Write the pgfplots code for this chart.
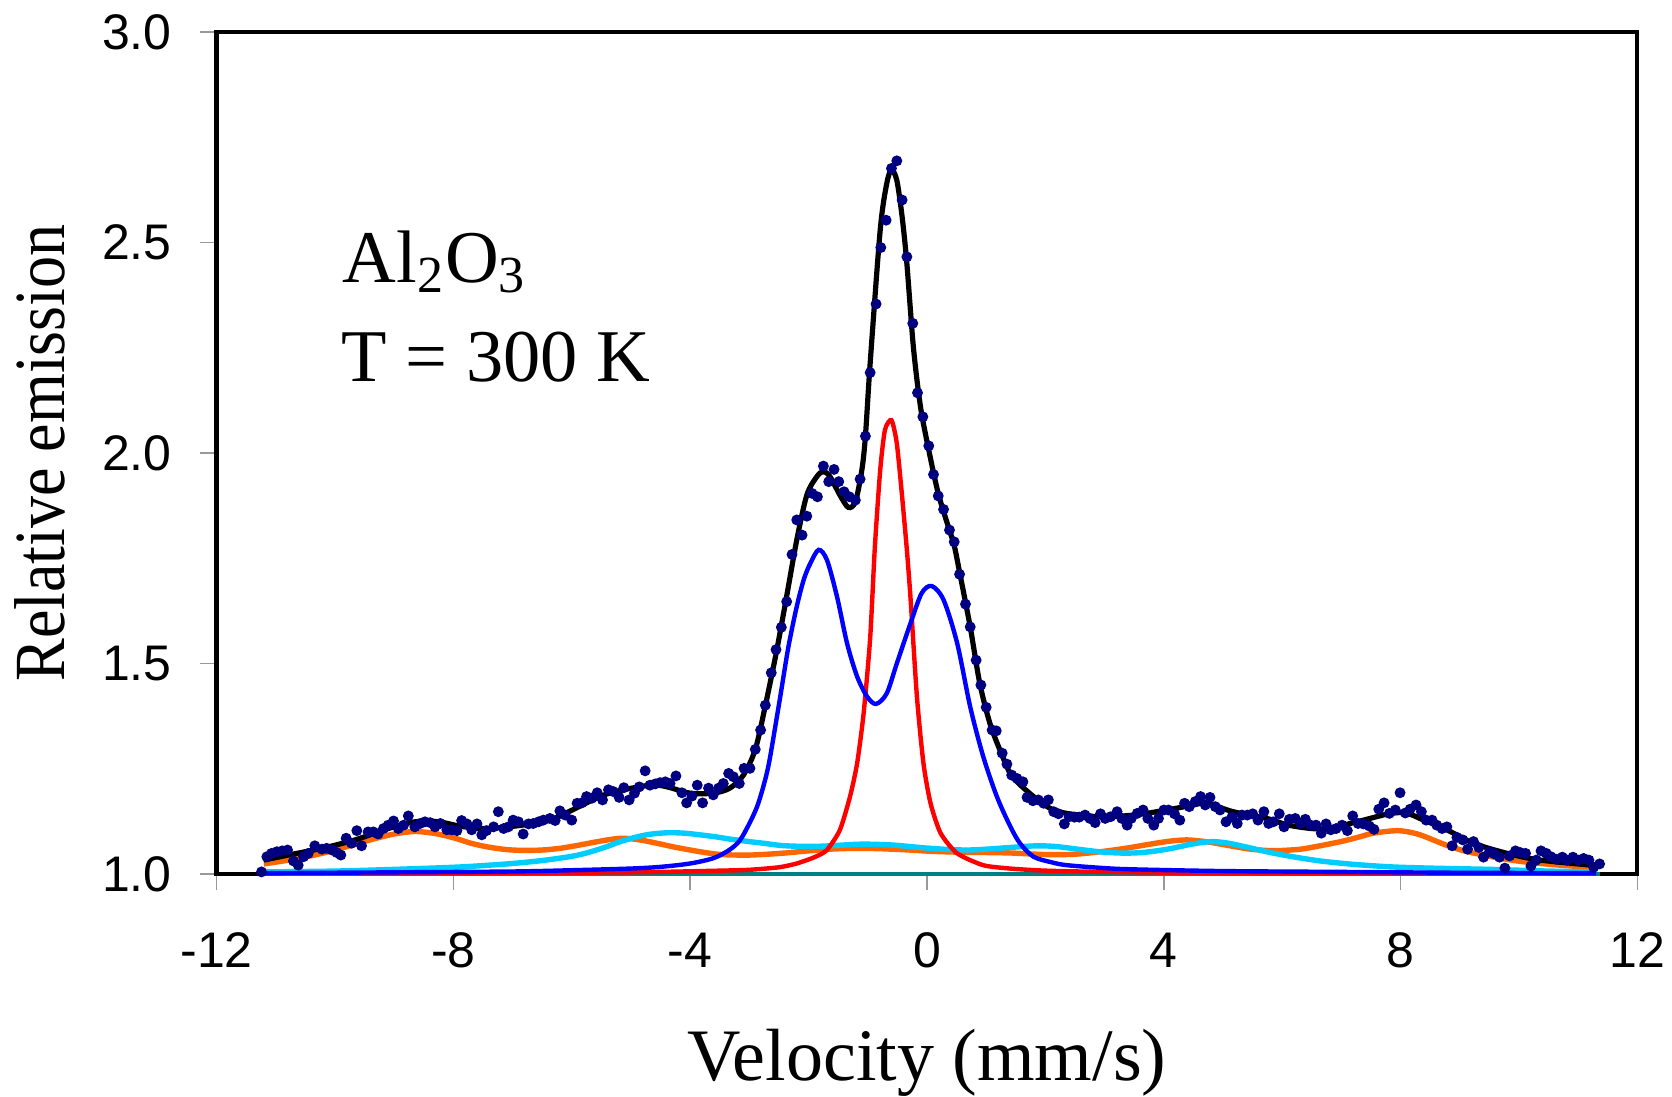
\documentclass[border=0pt]{standalone}
\usepackage{fontspec}
\setmainfont{Liberation Serif}
\setsansfont{Liberation Sans}
\usepackage{pgfplots}
\pgfplotsset{compat=1.18}

\definecolor{dotnavy}{RGB}{0,0,128}
\definecolor{fitblue}{RGB}{0,0,255}
\definecolor{fitred}{RGB}{255,0,0}
\definecolor{fitorange}{RGB}{255,102,0}
\definecolor{fitcyan}{RGB}{0,204,255}
\definecolor{baseteal}{RGB}{0,128,128}

\begin{document}
\begin{tikzpicture}
\begin{axis}[
  at={(54.125pt,55.5pt)}, anchor=south west,
  width=355.25pt, height=210.5pt, scale only axis,
  xmin=-12, xmax=12, ymin=1, ymax=3,
  xtick={-12,-8,-4,0,4,8,12}, xticklabels={-12,-8,-4,0,4,8,12},
  ytick={1,1.5,2,2.5,3}, yticklabels={1.0,1.5,2.0,2.5,3.0},
  tick pos=left, tick align=outside, major tick length=4pt,
  major tick style={gray!80, line width=0.4pt},
  axis line style={black, line width=1pt},
  tick label style={font=\fontsize{12.5}{15}\selectfont\sffamily, inner sep=0pt},
  xticklabel style={anchor=north, yshift=-10.5pt},
  yticklabel style={anchor=east, xshift=-7pt},
  xlabel={Velocity (mm/s)},
  ylabel={\scalebox{0.89}[1]{Relative emission}},
  xlabel style={at={(axis description cs:0.5,-0.2447)}, anchor=base, font=\fontsize{18.5}{22}\selectfont},
  ylabel style={at={(axis description cs:-0.1073,0.5)}, anchor=base, font=\fontsize{18}{22}\selectfont},
  clip=false,
]
% baseline
\addplot[baseteal, line width=1.2pt] coordinates {(-11.24,1.0) (11.36,1.0)};
% orange sextet
\addplot[fitorange, line width=1.35pt, smooth] coordinates {
(-11.2,1.024) (-10.7,1.035) (-10.22,1.049) (-9.8,1.065) (-9.38,1.082) (-9.0,1.095)
(-8.65,1.101) (-8.3,1.096) (-7.97,1.085) (-7.7,1.073) (-7.41,1.064) (-7.1,1.058)
(-6.8,1.056) (-6.5,1.057) (-6.2,1.061) (-5.9,1.068) (-5.6,1.076) (-5.35,1.082)
(-5.13,1.085) (-4.85,1.081) (-4.56,1.073) (-4.3,1.065) (-4.0,1.057) (-3.7,1.050)
(-3.44,1.046) (-3.0,1.045) (-2.48,1.049) (-2.0,1.055) (-1.64,1.059) (-1.2,1.061)
(-0.77,1.060) (-0.3,1.057) (0.06,1.054) (0.5,1.052) (1.0,1.051) (1.4,1.050)
(1.7,1.048) (2.08,1.046) (2.5,1.047) (2.93,1.053) (3.35,1.061) (3.77,1.071)
(4.1,1.078) (4.39,1.081) (4.7,1.077) (5.0,1.070) (5.2,1.065) (5.46,1.059)
(5.74,1.056) (6.0,1.056) (6.31,1.059) (6.6,1.066) (6.99,1.077) (7.3,1.088)
(7.54,1.097) (7.94,1.103) (8.2,1.098) (8.39,1.090) (8.6,1.078) (8.84,1.065)
(9.1,1.054) (9.4,1.045) (9.7,1.037) (10.08,1.029) (10.6,1.022) (11.2,1.016)
};
% cyan sextet
\addplot[fitcyan, line width=1.35pt, smooth] coordinates {
(-11.2,1.005) (-10,1.007) (-9.0,1.011) (-8.0,1.016) (-7.5,1.020) (-7.0,1.025)
(-6.5,1.032) (-6.0,1.042) (-5.7,1.052) (-5.41,1.065) (-5.2,1.076) (-4.96,1.086)
(-4.7,1.094) (-4.39,1.098) (-4.1,1.097) (-3.83,1.093) (-3.55,1.088) (-3.33,1.083)
(-3.0,1.077) (-2.76,1.073) (-2.48,1.068) (-2.2,1.066) (-1.8,1.066) (-1.4,1.069)
(-1.07,1.071) (-0.6,1.069) (-0.2,1.064) (0.06,1.061) (0.4,1.058) (0.7,1.057)
(1.0,1.059) (1.4,1.063) (1.7,1.066) (1.92,1.067) (2.2,1.065) (2.6,1.058)
(2.9,1.053) (3.21,1.050) (3.5,1.050) (3.77,1.053) (4.1,1.060) (4.4,1.069)
(4.65,1.075) (4.84,1.077) (5.1,1.073) (5.46,1.062) (5.8,1.051) (6.14,1.042)
(6.4,1.036) (6.7,1.030) (7.2,1.023) (7.83,1.017) (8.5,1.014) (9.52,1.011)
(10.5,1.007) (11.26,1.005)
};
% red singlet
\addplot[fitred, line width=1.1pt, smooth, tension=0.4] coordinates {
(-11.2,1.001) (-8,1.002) (-5,1.004) (-3.5,1.008) (-3.0,1.010) (-2.5,1.016)
(-2.2,1.025) (-1.9,1.040) (-1.69,1.057) (-1.47,1.105) (-1.30,1.184) (-1.18,1.263)
(-1.07,1.382) (-0.96,1.560) (-0.88,1.778) (-0.79,1.960) (-0.71,2.055) (-0.60,2.078)
(-0.51,2.023) (-0.42,1.896) (-0.34,1.770) (-0.28,1.659) (-0.17,1.421) (-0.06,1.263)
(0.06,1.168) (0.23,1.097) (0.51,1.049) (0.95,1.021) (1.4,1.013) (2,1.008)
(3,1.005) (5,1.002) (8,1.001) (11.3,1.001)
};
% blue doublet
\addplot[fitblue, line width=1.1pt, smooth, tension=0.5] coordinates {
(-11.2,1.002) (-9,1.004) (-7,1.006) (-6,1.009) (-5,1.013) (-4.5,1.017)
(-4,1.025) (-3.6,1.038) (-3.33,1.058) (-3.16,1.080) (-3.0,1.120) (-2.87,1.160)
(-2.76,1.210) (-2.66,1.270) (-2.48,1.420) (-2.34,1.540) (-2.2,1.635) (-2.08,1.700)
(-1.97,1.738) (-1.83,1.770) (-1.69,1.746) (-1.52,1.659) (-1.35,1.548) (-1.18,1.469)
(-1.01,1.421) (-0.86,1.404) (-0.68,1.429) (-0.51,1.500) (-0.28,1.595) (-0.09,1.667)
(0.08,1.684) (0.28,1.651) (0.51,1.548) (0.73,1.397) (0.95,1.279) (1.18,1.184)
(1.4,1.115) (1.57,1.073) (1.8,1.041) (2.1,1.028) (2.36,1.021) (3.0,1.014)
(3.5,1.011) (5,1.007) (7,1.005) (9,1.003) (11.3,1.002)
};
% total fit
\addplot[black, line width=1.3pt, smooth, tension=0.5] coordinates {
(-11.2,1.033) (-10.79,1.045) (-10.22,1.061) (-9.66,1.081) (-9.10,1.108) (-8.65,1.124)
(-8.25,1.124) (-7.86,1.113) (-7.41,1.108) (-6.84,1.116) (-6.37,1.128) (-6.05,1.148)
(-5.41,1.190) (-4.68,1.211) (-4.39,1.207) (-4.0,1.192) (-3.61,1.192) (-3.33,1.204)
(-3.1,1.235) (-2.90,1.296) (-2.73,1.400) (-2.54,1.530) (-2.37,1.660) (-2.20,1.793)
(-2.03,1.900) (-1.86,1.944) (-1.75,1.956) (-1.64,1.944) (-1.47,1.900) (-1.33,1.871)
(-1.21,1.884) (-1.10,1.960) (-1.04,2.040) (-0.96,2.213) (-0.79,2.530) (-0.68,2.640)
(-0.60,2.672) (-0.51,2.648) (-0.42,2.561) (-0.34,2.450) (-0.23,2.252) (-0.11,2.110)
(0.03,2.007) (0.19,1.904) (0.36,1.825) (0.46,1.780) (0.56,1.710) (0.73,1.587)
(0.89,1.454) (1.06,1.359) (1.23,1.295) (1.40,1.240) (1.55,1.215) (1.80,1.184)
(2.08,1.156) (2.36,1.144) (2.93,1.136) (3.49,1.140) (4.05,1.152) (4.5,1.164)
(4.72,1.168) (5.17,1.148) (5.74,1.132) (6.14,1.115) (6.70,1.107) (7.26,1.124)
(7.83,1.144) (8.11,1.144) (8.39,1.128) (8.78,1.105) (9.23,1.073) (9.8,1.049)
(10.36,1.033) (11.3,1.020)
};
% measured data
\addplot[only marks, mark=*, mark size=1.15pt, color=dotnavy, mark options={fill=dotnavy, draw=dotnavy}] coordinates {
(-11.24,1.005) (-11.15,1.041) (-11.07,1.049) (-10.98,1.053) (-10.89,1.055) (-10.80,1.057)
(-10.70,1.031) (-10.62,1.021) (-10.53,1.041) (-10.45,1.049) (-10.34,1.067) (-10.22,1.059)
(-10.14,1.061) (-10.05,1.057) (-9.97,1.051) (-9.90,1.045) (-9.81,1.085) (-9.72,1.073)
(-9.63,1.103) (-9.55,1.067) (-9.44,1.100) (-9.35,1.100) (-9.27,1.095) (-9.18,1.108)
(-9.10,1.116) (-9.01,1.126) (-8.93,1.108) (-8.84,1.116) (-8.76,1.138) (-8.65,1.112)
(-8.56,1.120) (-8.48,1.124) (-8.39,1.122) (-8.31,1.112) (-8.22,1.120) (-8.11,1.105)
(-8.03,1.105) (-7.94,1.103) (-7.86,1.127) (-7.77,1.119) (-7.69,1.105) (-7.60,1.119)
(-7.52,1.093) (-7.44,1.103) (-7.32,1.112) (-7.24,1.148) (-7.15,1.108) (-7.07,1.112)
(-6.99,1.128) (-6.90,1.124) (-6.82,1.095) (-6.73,1.119) (-6.65,1.120) (-6.56,1.124)
(-6.48,1.128) (-6.37,1.132) (-6.28,1.127) (-6.20,1.150) (-6.11,1.140) (-6.00,1.128)
(-5.91,1.168) (-5.83,1.169) (-5.75,1.184) (-5.66,1.180) (-5.57,1.193) (-5.48,1.176)
(-5.38,1.200) (-5.30,1.196) (-5.20,1.182) (-5.12,1.205) (-5.03,1.176) (-4.94,1.192)
(-4.86,1.207) (-4.76,1.245) (-4.68,1.211) (-4.59,1.214) (-4.51,1.217) (-4.42,1.219)
(-4.34,1.215) (-4.24,1.233) (-4.14,1.193) (-4.06,1.169) (-3.97,1.185) (-3.88,1.211)
(-3.79,1.169) (-3.69,1.204) (-3.61,1.188) (-3.52,1.204) (-3.44,1.215) (-3.35,1.239)
(-3.27,1.231) (-3.17,1.215) (-3.09,1.251) (-2.99,1.251) (-2.90,1.296) (-2.81,1.342)
(-2.73,1.401) (-2.63,1.478) (-2.55,1.533) (-2.46,1.586) (-2.37,1.647) (-2.28,1.759)
(-2.20,1.841) (-2.11,1.805) (-2.03,1.850) (-1.94,1.904) (-1.85,1.896) (-1.75,1.969)
(-1.66,1.932) (-1.57,1.961) (-1.49,1.932) (-1.40,1.908) (-1.31,1.896) (-1.21,1.888)
(-1.13,1.938) (-1.04,2.040) (-0.96,2.191) (-0.86,2.354) (-0.78,2.488) (-0.69,2.553)
(-0.60,2.676) (-0.51,2.694) (-0.42,2.601) (-0.34,2.466) (-0.24,2.308) (-0.16,2.143)
(-0.07,2.086) (0.03,2.017) (0.11,1.949) (0.19,1.898) (0.28,1.866) (0.38,1.817)
(0.46,1.789) (0.55,1.712) (0.65,1.641) (0.73,1.587) (0.83,1.508) (0.91,1.449)
(1.00,1.396) (1.10,1.342) (1.17,1.340) (1.27,1.287) (1.35,1.261) (1.43,1.235)
(1.52,1.227) (1.62,1.219) (1.69,1.182) (1.79,1.174) (1.88,1.176) (1.97,1.168)
(2.05,1.176) (2.14,1.148) (2.22,1.143) (2.32,1.119) (2.40,1.136) (2.49,1.135)
(2.57,1.135) (2.67,1.140) (2.75,1.132) (2.84,1.122) (2.93,1.143) (3.01,1.132)
(3.10,1.136) (3.21,1.148) (3.29,1.132) (3.38,1.116) (3.45,1.132) (3.55,1.144)
(3.65,1.152) (3.73,1.132) (3.83,1.116) (3.91,1.132) (4.00,1.152) (4.08,1.152)
(4.18,1.143) (4.27,1.128) (4.35,1.168) (4.43,1.160) (4.53,1.172) (4.62,1.184)
(4.70,1.164) (4.78,1.182) (4.87,1.160) (4.95,1.152) (5.05,1.124) (5.15,1.135)
(5.24,1.120) (5.32,1.140) (5.41,1.140) (5.50,1.143) (5.59,1.128) (5.69,1.148)
(5.77,1.120) (5.85,1.124) (5.95,1.143) (6.03,1.112) (6.12,1.130) (6.22,1.132)
(6.31,1.120) (6.39,1.130) (6.48,1.116) (6.57,1.116) (6.66,1.097) (6.74,1.119)
(6.82,1.105) (6.91,1.108) (7.01,1.116) (7.10,1.103) (7.19,1.138) (7.28,1.120)
(7.37,1.119) (7.47,1.114) (7.55,1.106) (7.63,1.154) (7.72,1.169) (7.81,1.144)
(7.91,1.152) (7.99,1.193) (8.08,1.145) (8.16,1.154) (8.26,1.164) (8.35,1.148)
(8.43,1.128) (8.53,1.128) (8.61,1.116) (8.70,1.108) (8.78,1.112) (8.87,1.067)
(8.95,1.087) (9.05,1.081) (9.13,1.059) (9.23,1.077) (9.32,1.063) (9.40,1.040)
(9.50,1.053) (9.58,1.048) (9.67,1.040) (9.76,1.014) (9.84,1.043) (9.94,1.055)
(10.02,1.051) (10.11,1.049) (10.20,1.019) (10.29,1.033) (10.37,1.055) (10.46,1.049)
(10.54,1.041) (10.63,1.035) (10.73,1.040) (10.81,1.033) (10.91,1.040) (11.00,1.033)
(11.09,1.037) (11.18,1.033) (11.26,1.016) (11.36,1.024)
};
\node[anchor=base west, inner sep=0pt, font=\fontsize{18.6}{22}\selectfont] at (axis cs:-9.88,2.406) {Al\textsubscript{2}O\textsubscript{3}};
\node[anchor=base west, inner sep=0pt, font=\fontsize{18.6}{22}\selectfont] at (axis cs:-9.90,2.171) {T = 300 K};
\end{axis}
\pgfresetboundingbox
\useasboundingbox (0,0) rectangle (418pt,274pt);
\end{tikzpicture}
\end{document}
